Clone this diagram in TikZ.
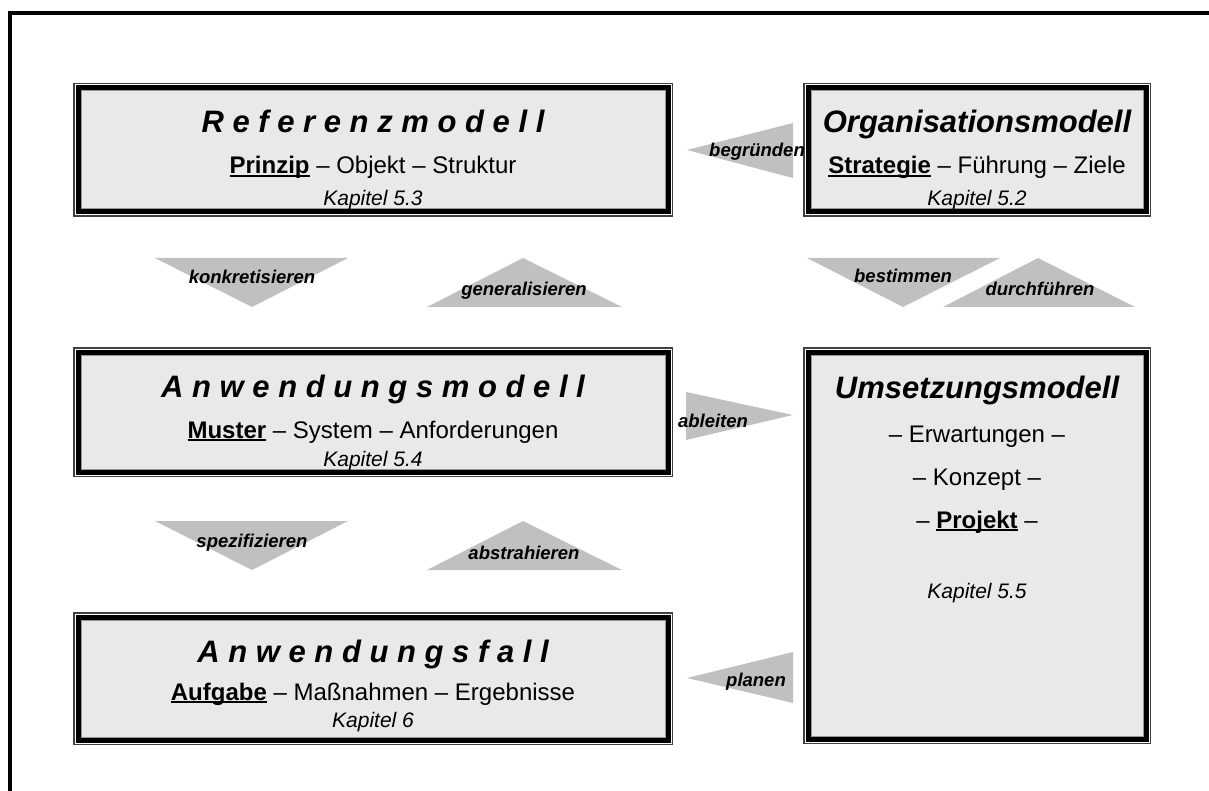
\documentclass[tikz,border=0pt]{standalone}
\usepackage{fontspec}
\setmainfont{Liberation Sans}

\definecolor{panelfill}{RGB}{233,233,233}
\definecolor{wedgefill}{RGB}{192,192,192}
\definecolor{rimgray}{RGB}{150,150,150}

% underline at a fixed depth below the baseline, crossing descenders
\newcommand\ulword[1]{\setbox0\hbox{#1}\rlap{\rule[-3pt]{\wd0}{2pt}}\box0\relax}

% framed panel: thin outer rule, white gap, heavy black band, grey inner rule, light fill
\newcommand\panel[5]{% name, left, top, right, bottom
  \fill[black!75] (#2,#3) rectangle (#4,#5);
  \fill[white] (#2+1.5,#3+1.5) rectangle (#4-1.5,#5-1.5);
  \fill[black] (#2+2.5,#3+2.5) rectangle (#4-2.5,#5-2.5);
  \fill[rimgray] (#2+7.5,#3+7.5) rectangle (#4-7.5,#5-7.5);
  \fill[panelfill] (#2+8.5,#3+8.5) rectangle (#4-8.5,#5-8.5);
  \node[inner sep=0, minimum width={(#4-#2)*1pt}, minimum height={(#5-#3)*1pt}]
    (#1) at ({(#2+#4)/2},{(#3+#5)/2}) {};
}

\tikzset{
  titletext/.style={anchor=base, inner sep=0, font=\fontsize{31}{31}\selectfont\bfseries\itshape},
  itemtext/.style={anchor=base, inner sep=0, font=\fontsize{24}{24}\selectfont},
  chaptertext/.style={anchor=base, inner sep=0, font=\fontsize{21}{21}\selectfont\itshape},
  verbtext/.style={anchor=base, inner sep=0, font=\fontsize{18.5}{18.5}\selectfont\bfseries\itshape},
  wedge/.style={fill=wedgefill},
}

\begin{document}
\begin{tikzpicture}[x=1pt, y=-1pt]
\useasboundingbox (0,0) rectangle (1209,791);

% outer frame (top and left edges)
\draw[line width=4pt] (10,791) -- (10,13.5) -- (1209,13.5);

% ---- panels ----
\panel{ref}{73}{83}{673}{217}
\panel{org}{803}{83}{1151}{217}
\panel{anm}{73}{347}{673}{477}
\panel{ums}{803}{347}{1151}{744}
\panel{anf}{73}{612}{673}{745}

% Referenzmodell
\node[titletext] (reftitle) at (373,133) {R e f e r e n z m o d e l l};
\node[itemtext] (refitems) at (373,174) {\ulword{\textbf{Prinzip}} -- Objekt -- Struktur};
\node[chaptertext] (refchap) at (373,206) {Kapitel 5.3};

% Organisationsmodell
\node[titletext] (orgtitle) at (977,133) {Organisationsmodell};
\node[itemtext] (orgitems) at (977,174) {\ulword{\textbf{Strategie}} -- Führung -- Ziele};
\node[chaptertext] (orgchap) at (977,206) {Kapitel 5.2};

% Anwendungsmodell
\node[titletext] (anmtitle) at (373,397) {A n w e n d u n g s m o d e l l};
\node[itemtext] (anmitems) at (373,438) {\ulword{\textbf{Muster}} -- System -- Anforderungen};
\node[chaptertext] (anmchap) at (373,466) {Kapitel 5.4};

% Umsetzungsmodell
\node[titletext] (umstitle) at (977,398) {Umsetzungsmodell};
\node[itemtext] (ums1) at (977,442) {-- Erwartungen --};
\node[itemtext] (ums2) at (977,485) {-- Konzept --};
\node[itemtext] (ums3) at (977,528) {-- \ulword{\textbf{Projekt}} --};
\node[chaptertext] (umschap) at (977,598) {Kapitel 5.5};

% Anwendungsfall
\node[titletext] (anftitle) at (373,662) {A n w e n d u n g s f a l l};
\node[itemtext] (anfitems) at (373,700) {\ulword{\textbf{Aufgabe}} -- Maßnahmen -- Ergebnisse};
\node[chaptertext] (anfchap) at (373,727) {Kapitel 6};

% ---- wedge arrows ----
% begründen (points left)
\fill[wedge] (687,150) -- (793,123) -- (793,178) -- cycle;
\node[verbtext] (vbegr) at (757,157) {begründen};

% konkretisieren (points down) / generalisieren (points up)
\fill[wedge] (155,258) -- (348,258) -- (252,307) -- cycle;
\node[verbtext] (vkonk) at (252,284) {konkretisieren};
\fill[wedge] (427,307) -- (622,307) -- (523,258) -- cycle;
\node[verbtext] (vgen) at (524,296) {generalisieren};

% bestimmen / durchführen
\fill[wedge] (807,258) -- (1000,258) -- (903,307) -- cycle;
\node[verbtext] (vbest) at (903,283) {bestimmen};
\fill[wedge] (943,307) -- (1135,307) -- (1038,258) -- cycle;
\node[verbtext] (vdurch) at (1040,296) {durchführen};

% ableiten (points right)
\fill[wedge] (686,392) -- (686,440) -- (793,415) -- cycle;
\node[verbtext] (vabl) at (713,427) {ableiten};

% spezifizieren / abstrahieren
\fill[wedge] (155,521) -- (348,521) -- (252,570) -- cycle;
\node[verbtext] (vspez) at (252,547) {spezifizieren};
\fill[wedge] (427,570) -- (622,570) -- (523,521) -- cycle;
\node[verbtext] (vabs) at (524,559) {abstrahieren};

% planen (points left)
\fill[wedge] (687,678) -- (793,652) -- (793,703) -- cycle;
\node[verbtext] (vplan) at (756,686) {planen};

\end{tikzpicture}
\end{document}
